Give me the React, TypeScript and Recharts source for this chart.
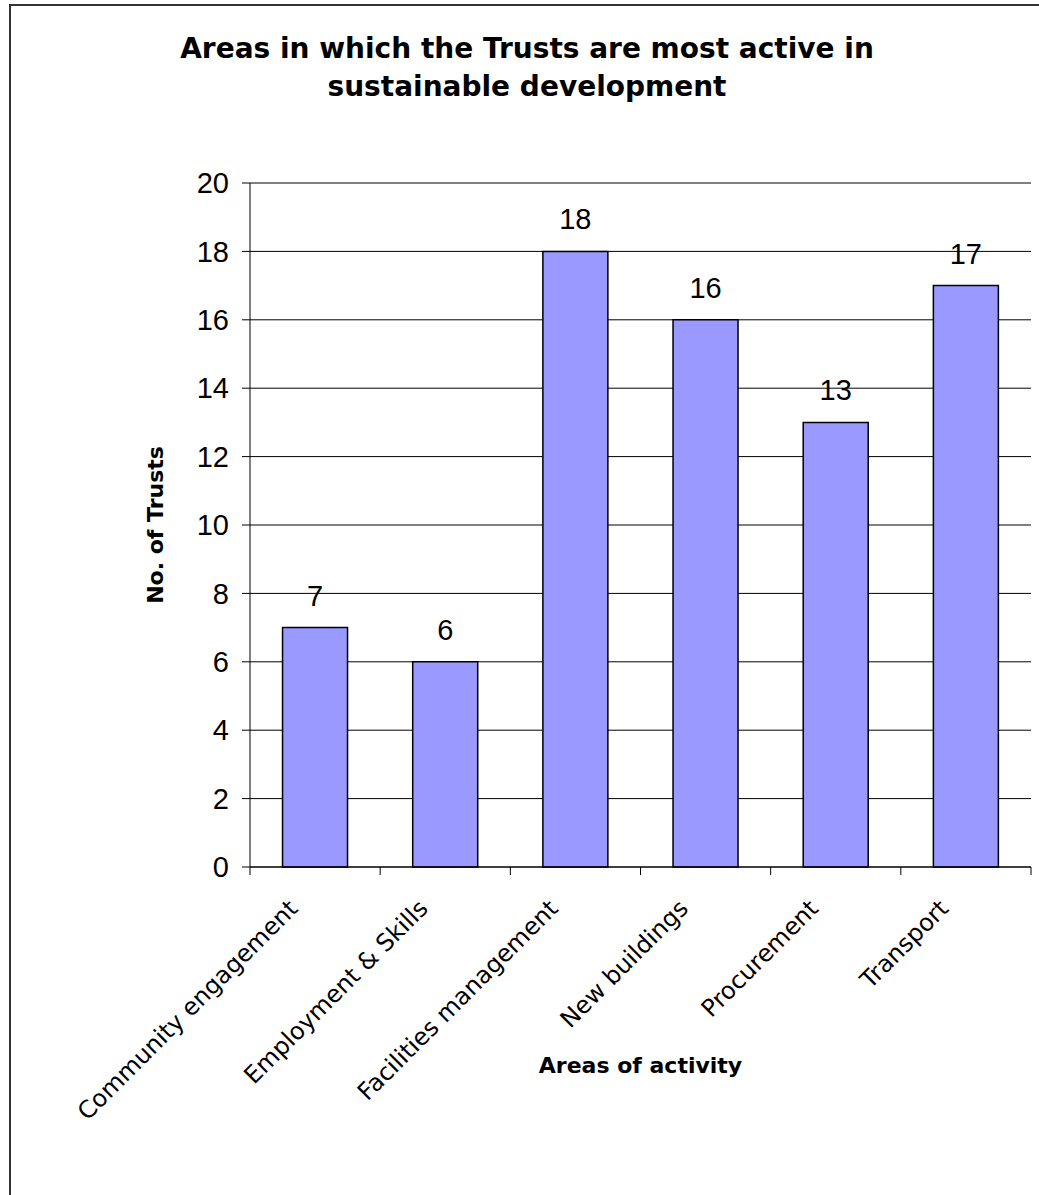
import { BarChart, Bar, XAxis, YAxis, CartesianGrid, LabelList, Label } from 'recharts';

const AREAS = [
  'Community engagement',
  'Employment & Skills',
  'Facilities management',
  'New buildings',
  'Procurement',
  'Transport',
];
const TRUSTS = [7, 6, 18, 16, 13, 17];
const Y_TICKS = [0, 2, 4, 6, 8, 10, 12, 14, 16, 18, 20];

const data = AREAS.map((area, i) => ({ area, trusts: TRUSTS[i] }));

const VERDANA = '"DejaVu Sans", Verdana, sans-serif';
const ARIAL = '"Liberation Sans", Arial, sans-serif';

// category label, slanted -45deg, with tick marks on the category boundaries
const AreaTick = (props: any) => {
  const { x, y, payload, index, visibleTicksCount, width } = props;
  const half = payload?.offset || width / (visibleTicksCount || 1) / 2;
  const last = index === visibleTicksCount - 1;
  return (
    <g>
      <line x1={x - half} y1={y} x2={x - half} y2={y + 8} stroke="#000" />
      {last && <line x1={x + half} y1={y} x2={x + half} y2={y + 8} stroke="#000" />}
      <text
        transform={`translate(${x - 16}, ${y + 43}) rotate(-45)`}
        textAnchor="end"
        fontFamily={VERDANA}
        fontSize={24}
        fill="#000"
      >
        {payload.value}
      </text>
    </g>
  );
};

const XTitle = (props: any) => {
  const vb = props.viewBox ?? { x: 250, y: 867, width: 781, height: 328 };
  return (
    <text
      x={vb.x + vb.width / 2}
      y={vb.y + 206}
      textAnchor="middle"
      fontFamily={VERDANA}
      fontWeight="bold"
      fontSize={22}
      fill="#000"
    >
      Areas of activity
    </text>
  );
};

const YTitle = (props: any) => {
  const vb = props.viewBox ?? { x: 0, y: 183, width: 250, height: 684 };
  return (
    <text
      transform={`translate(${vb.x + 163}, ${vb.y + vb.height / 2}) rotate(-90)`}
      textAnchor="middle"
      fontFamily={VERDANA}
      fontWeight="bold"
      fontSize={22}
      fill="#000"
    >
      No. of Trusts
    </text>
  );
};

export default function App() {
  return (
    <div
      style={{
        position: 'absolute',
        left: 0,
        top: 0,
        width: 1039,
        height: 1195,
        overflow: 'hidden',
        background: '#fff',
      }}
    >
      <div
        style={{
          position: 'absolute',
          left: 9,
          top: 4,
          width: 1100,
          height: 1300,
          border: '2px solid #333',
          boxSizing: 'border-box',
        }}
      />
      <div
        style={{
          position: 'absolute',
          left: 10,
          top: 30,
          width: 1034,
          textAlign: 'center',
          fontFamily: VERDANA,
          fontWeight: 'bold',
          fontSize: 28,
          lineHeight: '38px',
          color: '#000',
        }}
      >
        Areas in which the Trusts are most active in
        <br />
        sustainable development
      </div>
      <div style={{ position: 'absolute', left: 0, top: 0 }}>
        <BarChart
          width={1039}
          height={1195}
          data={data}
          margin={{ top: 183, right: 8, bottom: 0, left: 0 }}
          barCategoryGap="25%"
        >
          <CartesianGrid vertical={false} stroke="#000" />
          <XAxis
            dataKey="area"
            height={328}
            interval={0}
            tickLine={false}
            tickSize={0}
            tickMargin={0}
            axisLine={{ stroke: '#000' }}
            tick={<AreaTick />}
          >
            <Label content={<XTitle />} />
          </XAxis>
          <YAxis
            width={250}
            domain={[0, 20]}
            ticks={Y_TICKS}
            interval={0}
            tickSize={8}
            tickMargin={13}
            axisLine={{ stroke: '#000' }}
            tickLine={{ stroke: '#000' }}
            tick={{ fill: '#000', fontSize: 29, fontFamily: ARIAL }}
          >
            <Label content={<YTitle />} />
          </YAxis>
          <Bar
            dataKey="trusts"
            fill="#9999FF"
            stroke="#000"
            strokeWidth={1.5}
            isAnimationActive={false}
          >
            <LabelList
              dataKey="trusts"
              position="top"
              offset={22}
              fill="#000"
              fontSize={29}
              fontFamily={ARIAL}
            />
          </Bar>
        </BarChart>
      </div>
    </div>
  );
}
